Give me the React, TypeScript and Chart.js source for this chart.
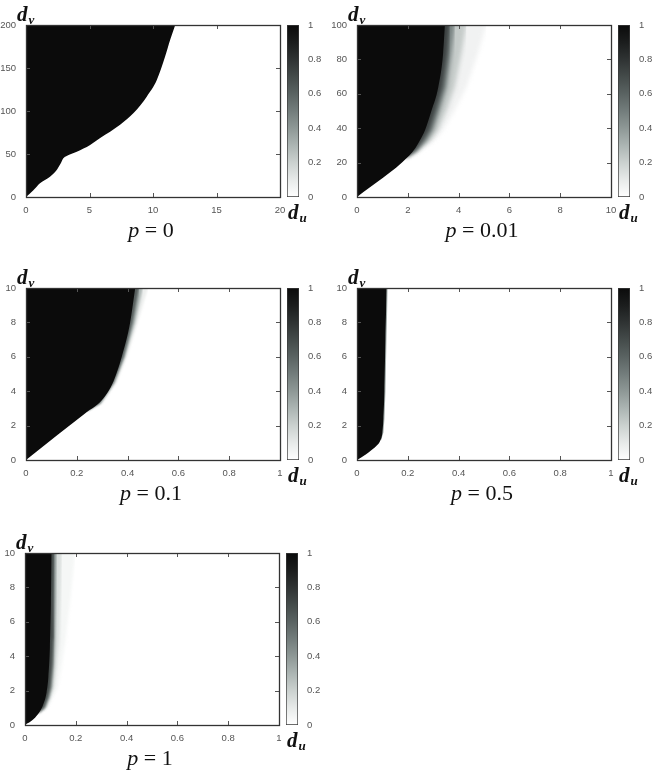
import React, { useEffect, useRef } from 'react';
import { Chart, registerables } from 'chart.js';

// plugin that blurs selected fill layers (registered before the filler so it runs first)
const fadeBlur = {
  id: 'fadeBlur',
  beforeDatasetDraw(chart: any, args: any) {
    const ds: any = chart.data.datasets[args.index];
    chart.ctx.filter = ds && ds.blurPx ? `blur(${ds.blurPx}px)` : 'none';
  },
  afterDatasetDraw(chart: any) {
    chart.ctx.filter = 'none';
  },
};
Chart.register(fadeBlur as any);
Chart.register(...registerables);

// ---------------- data ----------------
const XT_P0 = [0, 5, 10, 15, 20];
const YT_P0 = [0, 50, 100, 150, 200];
const XT_P001 = [0, 2, 4, 6, 8, 10];
const YT_P001 = [0, 20, 40, 60, 80, 100];
const XT_UNIT = [0, 0.2, 0.4, 0.6, 0.8, 1];
const YT_TEN = [0, 2, 4, 6, 8, 10];
const CB_TICKS = [0, 0.2, 0.4, 0.6, 0.8, 1];

// p = 0 : boundary of the black region
const P0_DU = [0, 0.58, 1.1, 1.89, 2.42, 2.74, 2.94, 3.2, 4.0, 5.05, 5.84, 7.41, 8.47, 9.52, 10.3, 10.96, 11.36, 11.75];
const P0_DV = [0, 7.8, 15.9, 23.6, 31.4, 39.2, 45, 47.7, 52.7, 60.5, 68.6, 84.1, 97.7, 117, 136, 163.6, 183, 200];

// p = 0.01
const P001_DU = [0, 2.05, 2.3, 2.48, 2.68, 2.94, 3.2, 3.39, 3.46];
const P001_DV = [0, 24, 28.5, 33, 39, 50.6, 64, 83.5, 100];
const P001_FADE_DV = [23, 27, 33, 39, 50.6, 64, 83.5, 100];
const P001_FADE_70 = [1.9, 2.3, 2.6, 2.85, 3.1, 3.37, 3.56, 3.65];
const P001_FADE_45 = [1.9, 2.35, 2.75, 3.0, 3.26, 3.53, 3.72, 3.85];
const P001_FADE_20 = [1.9, 2.4, 2.9, 3.2, 3.53, 3.85, 4.11, 4.3];
const P001_FADE_05 = [1.9, 2.45, 3.05, 3.39, 3.85, 4.31, 4.76, 5.09];

// p = 0.1
const P01_DU = [0, 0.25, 0.29, 0.32, 0.345, 0.377, 0.41, 0.43];
const P01_DV = [0, 2.9, 3.35, 3.9, 4.6, 6, 8, 10];
const P01_FADE_DV = [2.85, 3.3, 4.5, 6, 8, 10];
const P01_FADE_60 = [0.24, 0.29, 0.345, 0.385, 0.42, 0.445];
const P01_FADE_30 = [0.24, 0.295, 0.35, 0.39, 0.43, 0.46];
const P01_FADE_08 = [0.24, 0.3, 0.357, 0.398, 0.44, 0.48];

// p = 0.5
const P05_DU = [0, 0.033, 0.055, 0.075, 0.091, 0.1, 0.104, 0.108, 0.112, 0.117];
const P05_DV = [0, 0.3, 0.55, 0.8, 1.1, 1.6, 2.4, 4, 7, 10];
const P05_FADE_DV = [1.1, 1.6, 2.4, 4, 7, 10];
const P05_FADE_40 = [0.094, 0.104, 0.108, 0.112, 0.116, 0.121];

// p = 1
const P1_DU = [0, 0.033, 0.059, 0.072, 0.085, 0.092, 0.098, 0.102, 0.105];
const P1_DV = [0, 0.33, 0.8, 1.2, 1.9, 2.8, 4.5, 7, 10];
const P1_FADE_DV = [0.7, 1.0, 1.6, 2.2, 3.5, 5, 7.5, 10];
const P1_FADE_70 = [0.05, 0.075, 0.09, 0.1, 0.108, 0.112, 0.114, 0.116];
const P1_FADE_40 = [0.05, 0.078, 0.095, 0.105, 0.113, 0.118, 0.122, 0.125];
const P1_FADE_15 = [0.05, 0.082, 0.1, 0.115, 0.125, 0.135, 0.14, 0.145];
const P1_FADE_04 = [0.05, 0.09, 0.11, 0.13, 0.145, 0.16, 0.18, 0.197];

// ---------------- styling ----------------
const BLACK = '#0b0b0b';
const TICK_COLOR = '#555';
const TICK_FONT = { family: '"Liberation Sans", Arial, sans-serif', size: 9.5 };
const CMAP_STOPS: [number, number[]][] = [
  [0, [255, 255, 255]], [0.1, [231, 234, 233]], [0.2, [203, 209, 207]], [0.3, [172, 181, 179]],
  [0.4, [142, 152, 150]], [0.5, [115, 125, 124]], [0.6, [90, 99, 98]], [0.7, [68, 75, 74]],
  [0.8, [47, 51, 51]], [0.9, [27, 29, 29]], [1, [11, 11, 11]],
];
function cmap(v: number) {
  for (let i = 1; i < CMAP_STOPS.length; i++) {
    const [a, ca] = CMAP_STOPS[i - 1];
    const [b, cb] = CMAP_STOPS[i];
    if (v <= b) {
      const t = (v - a) / (b - a);
      const c = ca.map((x, k) => Math.round(x + (cb[k] - x) * t));
      return `rgb(${c[0]},${c[1]},${c[2]})`;
    }
  }
  return 'rgb(11,11,11)';
}

type Fade = { du: number[]; level: number };
type PanelCfg = {
  p: string; left: number; top: number; xMax: number; yMax: number;
  xt: number[]; yt: number[]; du: number[]; dv: number[];
  fadeDv: number[]; fades: Fade[]; blur: number;
};

const PANELS: PanelCfg[] = [
  { p: '0', left: 26, top: 25, xMax: 20, yMax: 200, xt: XT_P0, yt: YT_P0, du: P0_DU, dv: P0_DV, fadeDv: [], fades: [], blur: 0 },
  { p: '0.01', left: 357, top: 25, xMax: 10, yMax: 100, xt: XT_P001, yt: YT_P001, du: P001_DU, dv: P001_DV, fadeDv: P001_FADE_DV,
    fades: [{ du: P001_FADE_70, level: 0.75 }, { du: P001_FADE_45, level: 0.48 }, { du: P001_FADE_20, level: 0.22 }, { du: P001_FADE_05, level: 0.06 }], blur: 2 },
  { p: '0.1', left: 26, top: 288, xMax: 1, yMax: 10, xt: XT_UNIT, yt: YT_TEN, du: P01_DU, dv: P01_DV, fadeDv: P01_FADE_DV,
    fades: [{ du: P01_FADE_60, level: 0.62 }, { du: P01_FADE_30, level: 0.3 }, { du: P01_FADE_08, level: 0.08 }], blur: 1.2 },
  { p: '0.5', left: 357, top: 288, xMax: 1, yMax: 10, xt: XT_UNIT, yt: YT_TEN, du: P05_DU, dv: P05_DV, fadeDv: P05_FADE_DV,
    fades: [{ du: P05_FADE_40, level: 0.35 }], blur: 0 },
  { p: '1', left: 25, top: 553, xMax: 1, yMax: 10, xt: XT_UNIT, yt: YT_TEN, du: P1_DU, dv: P1_DV, fadeDv: P1_FADE_DV,
    fades: [{ du: P1_FADE_70, level: 0.72 }, { du: P1_FADE_40, level: 0.42 }, { du: P1_FADE_15, level: 0.15 }, { du: P1_FADE_04, level: 0.04 }], blur: 1.5 },
];

const PLOT_W = 254;
const PLOT_H = 172;
const PAD_TOP = 16;
const PAD_RIGHT = 16;
const Y_AXIS_W = 26;
const X_AXIS_H = 20;
const MAIN_W = Y_AXIS_W + PLOT_W + PAD_RIGHT;
const MAIN_H = PAD_TOP + PLOT_H + X_AXIS_H + 2;
const CB_W = 52;
const CB_H = PAD_TOP + PLOT_H + 16;

const frameTicks = {
  id: 'frameTicks',
  afterDraw(chart: any) {
    const { ctx, chartArea: a, scales } = chart;
    ctx.save();
    ctx.strokeStyle = '#555';
    ctx.lineWidth = 1;
    const L = 4;
    ctx.beginPath();
    const xs = scales.x.ticks;
    xs.forEach((t: any, i: number) => {
      if (i === 0 || i === xs.length - 1) return;
      const px = Math.round(scales.x.getPixelForValue(t.value)) + 0.5;
      ctx.moveTo(px, a.bottom); ctx.lineTo(px, a.bottom - L);
      ctx.moveTo(px, a.top); ctx.lineTo(px, a.top + L);
    });
    const ys = scales.y.ticks;
    ys.forEach((t: any, i: number) => {
      if (i === 0 || i === ys.length - 1) return;
      const py = Math.round(scales.y.getPixelForValue(t.value)) + 0.5;
      ctx.moveTo(a.left, py); ctx.lineTo(a.left + L, py);
      ctx.moveTo(a.right, py); ctx.lineTo(a.right - L, py);
    });
    ctx.stroke();
    ctx.strokeStyle = '#333';
    ctx.lineWidth = 1.3;
    ctx.strokeRect(Math.round(a.left) + 0.5, Math.round(a.top) + 0.5, Math.round(a.right - a.left), Math.round(a.bottom - a.top));
    ctx.restore();
  },
};

function buildMain(canvas: HTMLCanvasElement, cfg: PanelCfg) {
  const datasets: any[] = [];
  datasets.push({
    data: cfg.du.map((x, i) => ({ x, y: cfg.dv[i] })),
    fill: 'end', backgroundColor: BLACK, borderWidth: 0, pointRadius: 0, cubicInterpolationMode: 'monotone',
  });
  const over = cfg.yMax * 1.35;
  cfg.fades.forEach((f) => {
    const pts = f.du.map((x, i) => ({ x, y: cfg.fadeDv[i] }));
    pts.push({ x: f.du[f.du.length - 1], y: over });
    datasets.push({
      data: pts, fill: { value: over }, backgroundColor: cmap(f.level),
      borderWidth: 0, pointRadius: 0, tension: 0, blurPx: cfg.blur,
    });
  });
  const mkTicks = (arr: number[]) => (s: any) => { s.ticks = arr.map((v) => ({ value: v })); };
  return new Chart(canvas, {
    type: 'line',
    data: { datasets },
    options: {
      animation: false, responsive: false, maintainAspectRatio: false, events: [],
      layout: { padding: { top: PAD_TOP, right: PAD_RIGHT, bottom: 2, left: 0 } },
      plugins: { legend: { display: false }, tooltip: { enabled: false } },
      scales: {
        x: {
          type: 'linear', min: 0, max: cfg.xMax,
          afterBuildTicks: mkTicks(cfg.xt),
          afterFit: (s: any) => { s.height = X_AXIS_H; },
          ticks: { color: TICK_COLOR, font: TICK_FONT, padding: 8, maxRotation: 0, autoSkip: false, callback: (v: any) => String(v) },
          grid: { display: false, drawTicks: false }, border: { display: false },
        },
        y: {
          type: 'linear', min: 0, max: cfg.yMax,
          afterBuildTicks: mkTicks(cfg.yt),
          afterFit: (s: any) => { s.width = Y_AXIS_W; },
          ticks: { color: TICK_COLOR, font: TICK_FONT, padding: 10, autoSkip: false, callback: (v: any) => String(v) },
          grid: { display: false, drawTicks: false }, border: { display: false },
        },
      },
    } as any,
    plugins: [frameTicks as any],
  });
}

function buildColorbar(canvas: HTMLCanvasElement) {
  return new Chart(canvas, {
    type: 'bar',
    data: {
      labels: ['c'],
      datasets: [{
        data: [1],
        backgroundColor: (c: any) => {
          const { ctx, chartArea } = c.chart;
          if (!chartArea) return '#888';
          const g = ctx.createLinearGradient(0, chartArea.bottom, 0, chartArea.top);
          CMAP_STOPS.forEach(([v, col]) => g.addColorStop(v, `rgb(${col[0]},${col[1]},${col[2]})`));
          return g;
        },
        borderColor: '#3a3a3a', borderWidth: 1, borderSkipped: false,
        barPercentage: 1, categoryPercentage: 1,
      }],
    },
    options: {
      animation: false, responsive: false, maintainAspectRatio: false, events: [],
      layout: { padding: { top: PAD_TOP, right: 0, bottom: 16, left: 0 } },
      plugins: { legend: { display: false }, tooltip: { enabled: false } },
      scales: {
        x: { display: false },
        y: {
          position: 'right', min: 0, max: 1,
          afterBuildTicks: (s: any) => { s.ticks = CB_TICKS.map((v) => ({ value: v })); },
          afterFit: (s: any) => { s.width = 40; },
          ticks: { color: TICK_COLOR, font: TICK_FONT, padding: 9, autoSkip: false, callback: (v: any) => String(v) },
          grid: { display: false, drawTicks: false }, border: { display: false },
        },
      },
    } as any,
  });
}

const SERIF = '"Liberation Serif", "Times New Roman", serif';

function Panel({ cfg }: { cfg: PanelCfg }) {
  const mainRef = useRef<HTMLCanvasElement>(null);
  const cbRef = useRef<HTMLCanvasElement>(null);
  useEffect(() => {
    const m = buildMain(mainRef.current!, cfg);
    const c = buildColorbar(cbRef.current!);
    return () => { m.destroy(); c.destroy(); };
  }, []);
  const labelStyle: React.CSSProperties = {
    position: 'absolute', fontFamily: SERIF, fontStyle: 'italic', fontWeight: 'bold',
    fontSize: 21, lineHeight: '21px', color: '#111', whiteSpace: 'nowrap',
  };
  const sub: React.CSSProperties = { fontSize: 13, position: 'relative', top: 3, marginLeft: 1 };
  return (
    <>
      <canvas ref={mainRef} width={MAIN_W} height={MAIN_H}
        style={{ position: 'absolute', left: cfg.left - Y_AXIS_W, top: cfg.top - PAD_TOP, width: MAIN_W, height: MAIN_H }} />
      <canvas ref={cbRef} width={CB_W} height={CB_H}
        style={{ position: 'absolute', left: cfg.left + 261, top: cfg.top - PAD_TOP, width: CB_W, height: CB_H }} />
      <div style={{ ...labelStyle, left: cfg.left - 9, top: cfg.top - 21 }}>d<span style={sub}>v</span></div>
      <div style={{ ...labelStyle, left: cfg.left + 262, top: cfg.top + PLOT_H + 5 }}>d<span style={sub}>u</span></div>
      <div style={{
        position: 'absolute', left: cfg.left - 2, width: PLOT_W, top: cfg.top + PLOT_H + 22,
        textAlign: 'center', fontFamily: SERIF, fontSize: 22, lineHeight: '22px', color: '#111', whiteSpace: 'nowrap',
      }}>
        <i>p</i> = {cfg.p}
      </div>
    </>
  );
}

export default function App() {
  return (
    <div style={{ position: 'fixed', left: 0, top: 0, width: 654, height: 770, background: '#fff', overflow: 'hidden' }}>
      {PANELS.map((cfg) => <Panel key={cfg.p} cfg={cfg} />)}
    </div>
  );
}
